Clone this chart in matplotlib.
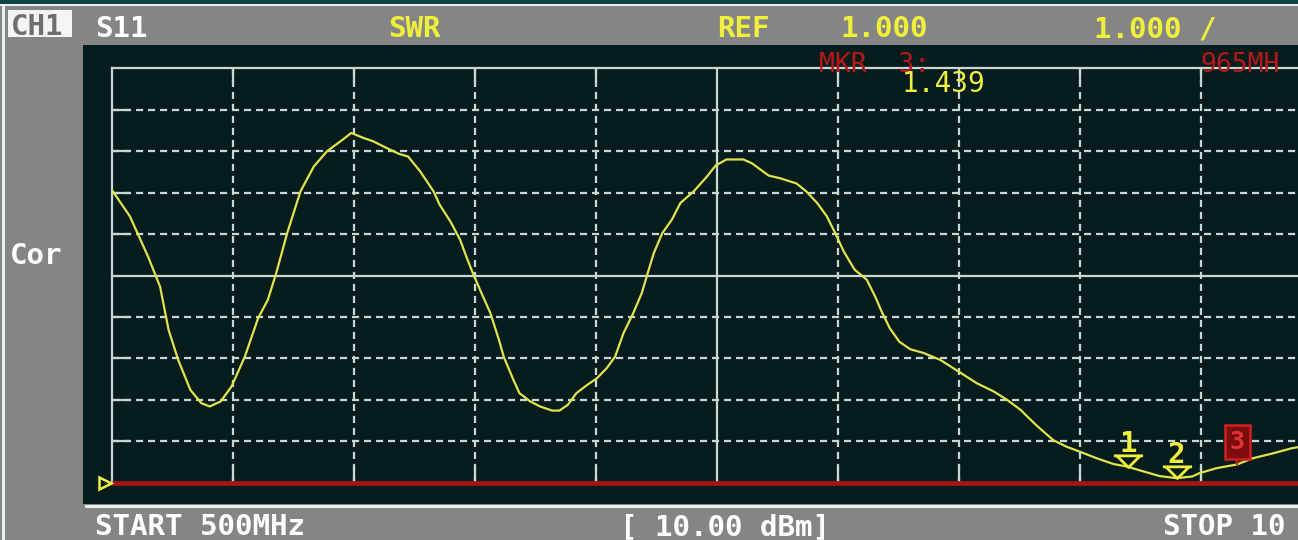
import numpy as np
import matplotlib.pyplot as plt
import matplotlib.transforms as mtransforms
from matplotlib.patches import Rectangle
from matplotlib.path import Path
from matplotlib.markers import MarkerStyle

# trace: frequency (MHz) and SWR
freq = [500, 507.5, 515, 520, 523.5, 527.5, 532.5, 537, 540.5, 545, 549.5,
        555, 560.5, 564.5, 568, 572.5, 578, 583.5, 589, 595.5, 599, 604,
        608, 613.5, 618.5, 622.5, 627.5, 633, 635.5, 640, 644, 646.5, 649.5,
        653, 656.5, 660, 662, 666, 668.5, 673, 677, 682, 685, 688.5, 692,
        696.5, 700.5, 704.5, 708, 711.5, 715.5, 719, 721.5, 724, 727.5,
        731.5, 735, 740.5, 746, 749.5, 754, 761, 764.5, 771.5, 776, 783,
        787, 791.5, 795.5, 799, 802.5, 807, 812, 815.5, 818, 821.5, 825.5,
        830, 835.5, 842.5, 850, 857.5, 864.5, 870, 875.5, 882, 889, 894.5,
        900, 907, 914, 919.5, 926.5, 933, 940, 946.5, 949.5, 956.5, 965,
        971.5, 980, 987.5, 1000]
swr = [8.07, 7.43, 6.46, 5.73, 4.69, 3.96, 3.24, 2.92, 2.84, 2.96, 3.32,
       4.04, 4.97, 5.41, 6.06, 7.02, 8.03, 8.63, 9.00, 9.28, 9.44, 9.32,
       9.24, 9.08, 8.94, 8.87, 8.51, 8.03, 7.71, 7.30, 6.86, 6.46, 6.02,
       5.55, 5.09, 4.45, 4.04, 3.48, 3.16, 2.96, 2.84, 2.74, 2.74, 2.88, 3.16,
       3.36, 3.52, 3.76, 4.04, 4.61, 5.09, 5.57, 6.06, 6.54, 7.02,
       7.35, 7.75, 8.03, 8.39, 8.65, 8.80, 8.80, 8.71, 8.41, 8.35, 8.22,
       8.03, 7.75, 7.43, 7.02, 6.58, 6.14, 5.90, 5.49, 5.15, 4.73, 4.40,
       4.22, 4.13, 3.96, 3.68, 3.40, 3.20, 3.00, 2.76, 2.39, 2.03, 1.87,
       1.75, 1.59, 1.45, 1.39, 1.27, 1.16, 1.11, 1.15, 1.23, 1.35, 1.44,
       1.59, 1.71, 1.83, 1.95]

start_mhz, stop_mhz = 500, 1000
ref_swr, swr_per_div = 1.0, 1.0
marker_ids = ['1', '2', '3']
marker_freq = [920, 940, 965]

W, H = 1298, 540
GRAY = '#858585'
SCREEN = '#071d1d'
YEL = '#f0f03c'
TRACE = '#e2e24a'
GRID = '#c9d6d6'
RED = '#a31414'
MONO = 'DejaVu Sans Mono'


def fx(px):
    return px / W


def fy(py):
    return 1 - py / H


fig = plt.figure(figsize=(W / 100, H / 100), dpi=100, facecolor=GRAY)


def block(x0, y0, x1, y1, color):
    fig.add_artist(Rectangle((fx(x0), fy(y1)), fx(x1) - fx(x0), fy(y0) - fy(y1),
                             transform=fig.transFigure, facecolor=color,
                             edgecolor='none', zorder=-1))


block(0, 0, W, 3.5, '#0c4444')
block(0, 3.5, W, 6, '#e8f0f0')
block(2, 6, 4.5, H, '#e8f0f0')
block(83, 45, W, 504, SCREEN)
block(85, 504.5, W, 507.5, '#e8f0f0')
block(8, 10, 72, 37, '#f4f4f4')

# graticule: 10 x 10 divisions, right edge runs past the screenshot
ax = fig.add_axes([fx(111.7), fy(482.7), (1321.7 - 111.7) / W, (482.7 - 68.3) / H])
ax.set_xlim(start_mhz, stop_mhz)
ax.set_ylim(ref_swr, ref_swr + 10 * swr_per_div)
ax.axis('off')
ax.set_zorder(1)

xt = np.linspace(start_mhz, stop_mhz, 11)
yt = np.linspace(ref_swr, ref_swr + 10 * swr_per_div, 11)
dx = (stop_mhz - start_mhz) / 10
lw_g = 1.6
dash = (0, (3.2, 2.2))
for f in xt[1:]:
    if f == xt[5]:
        ax.plot([f, f], [yt[0], yt[-1]], color=GRID, lw=lw_g)
    else:
        ax.plot([f, f], [yt[0], yt[-1]], color=GRID, lw=lw_g, ls=dash)
        ax.plot([f, f], [yt[0], yt[0] + 0.36 * swr_per_div], color=GRID, lw=lw_g)
        ax.plot([f, f], [yt[-1] - 0.3 * swr_per_div, yt[-1]], color=GRID, lw=lw_g)
for s in yt[1:]:
    if s == yt[5] or s == yt[-1]:
        ax.plot([xt[0], xt[-1]], [s, s], color=GRID, lw=lw_g, clip_on=False)
    else:
        ax.plot([xt[0], xt[-1]], [s, s], color=GRID, lw=lw_g, ls=dash)
        ax.plot([xt[0], xt[0] + 0.14 * dx], [s, s], color=GRID, lw=lw_g)
ax.plot([xt[0], xt[0]], [yt[0], yt[-1]], color=GRID, lw=lw_g, clip_on=False)
ax.plot([xt[0], xt[-1]], [ref_swr, ref_swr], color=RED, lw=3.4, zorder=2,
        clip_on=False, solid_capstyle='butt')

ax.plot(freq, swr, color=TRACE, lw=1.6, zorder=3)

# reference level pointer on the left
blend = mtransforms.blended_transform_factory(ax.transAxes, ax.transData)
ax.plot([-0.0055], [ref_swr], marker='>', ms=9, mfc=SCREEN, mec=YEL, mew=1.8,
        transform=blend, clip_on=False, zorder=5)

# markers
tri = Path([(-1, 0.8), (1, 0.8), (-0.8, 0.8), (0, 0), (0.8, 0.8)],
           [Path.MOVETO, Path.LINETO, Path.MOVETO, Path.LINETO, Path.LINETO])
mk_swr = np.interp(marker_freq, freq, swr)
for mid, f, s in zip(marker_ids[:2], marker_freq[:2], mk_swr[:2]):
    ax.plot([f], [s], marker=MarkerStyle(tri), ms=21, mfc='none', mec=YEL,
            mew=2.0, zorder=5)
    ax.annotate(mid, xy=(f, s), xytext=(0, 11), textcoords='offset points',
                ha='center', va='baseline', color=YEL, fontsize=21,
                fontweight='bold', family=MONO, zorder=5)
ax.annotate(marker_ids[2], xy=(marker_freq[2], mk_swr[2]), xytext=(0, 16),
            textcoords='offset points', ha='center', va='center',
            color='#e03434', fontsize=18, fontweight='bold', family=MONO,
            bbox=dict(boxstyle='square,pad=0.2', fc='#7d0c0c', ec='#d02020', lw=1.8),
            arrowprops=dict(arrowstyle='-', color='#d02020', lw=1.6,
                            shrinkA=0, shrinkB=0), zorder=5)


def label(px, py, s, color, size=21, weight='bold'):
    fig.text(fx(px), fy(py), s, color=color, fontsize=size, fontweight=weight,
             family=MONO, ha='left', va='baseline', zorder=3)


label(11, 35, 'CH1', '#6e6e6e')
label(95, 37, 'S11', 'white')
label(388, 37, 'SWR', YEL)
label(717, 37, 'REF', YEL)
label(840, 37, '1.000', YEL)
label(1094, 37, '1.000 /', YEL)
label(10, 264, 'Cor', 'white')
label(95, 535, 'START 500MHz', 'white')
label(620, 535, '[ 10.00 dBm]', 'white')
label(1163, 535, 'STOP 10', 'white')
label(819, 72, 'MKR  3:', '#b81818', size=19, weight='normal')
label(902, 92, '1.439', YEL, size=20, weight='normal')
label(1200, 72, '965MH', '#b81818', size=19, weight='normal')

fig.savefig('out.png', dpi=100, facecolor=GRAY)
